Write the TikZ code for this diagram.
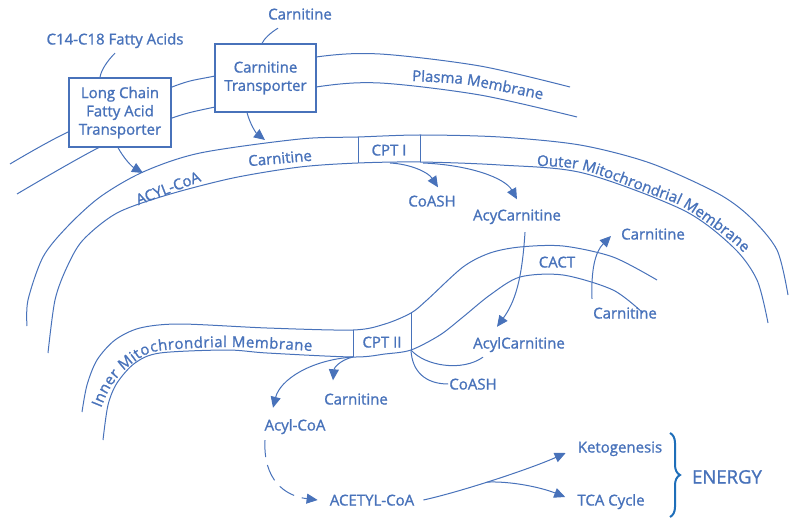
\documentclass[tikz,border=0pt]{standalone}
\usepackage{fontspec}
\setmainfont{Open Sans}
\newfontfamily\lblfam{Open Sans}[FakeBold=1.2]
\usetikzlibrary{arrows.meta,decorations.text,decorations.pathreplacing}
\definecolor{dblue}{RGB}{72,114,186}
\definecolor{bblue}{RGB}{30,110,185}
\newcommand{\lblsize}{\lblfam\fontsize{15}{18.3}\selectfont}

\begin{document}
\begin{tikzpicture}[x=1pt,y=-1pt,
  mem/.style={draw=dblue,line width=1pt},
  lnk/.style={color=dblue,line width=1pt},
  arr/.style={lnk,-{Triangle[length=11pt,width=10pt]}},
  lbl/.style={text=dblue,font=\lblsize,inner sep=1pt,text height=11pt,text depth=0pt},
  tbox/.style={draw=dblue,line width=1.2pt,fill=white,text=dblue,font=\lblsize,align=center,inner sep=0pt},
  curved/.style={decorate,decoration={text along path,text align=left,text color=dblue,text={|\lblsize|#1}}},
  curvedfit/.style={decorate,decoration={text along path,text align={fit to path},text color=dblue,text={|\lblsize|#1}}}]
\useasboundingbox (0,0) rectangle (800,521);
% membranes
\draw[mem] plot[smooth] coordinates {(10,164) (68,132) (172,87) (215,76) (316,57) (380,54) (480,66) (570,87)};
\draw[mem] plot[smooth] coordinates {(17,194) (100,147) (172,118) (215,107) (316,87) (380,83) (480,95) (577,117)};
\draw[mem] plot[smooth] coordinates {(27,326) (28,300) (43,257) (67,227) (100,197) (143,172) (200,153) (300,139) (358,137) (420,135) (500,137) (580,145) (650,163) (717,193) (750,217) (777,250) (788,295)};
\draw[mem] plot[smooth] coordinates {(48,353) (55,300) (67,267) (83,240) (117,213) (167,195) (233,178) (300,167) (358,163) (420,162) (500,165) (583,173) (683,210) (733,247) (757,280) (768,323)};
\draw[mem] plot[smooth] coordinates {(82,412) (87,385) (97,360) (115,340) (140,328) (180,324) (267,328) (353,330) (385,324) (411,313) (427,300) (463,267) (490,253) (520,247) (563,246) (613,257) (657,280)};
\draw[mem] plot[smooth] coordinates {(103,440) (108,405) (117,383) (135,363) (160,353) (227,350) (267,353) (353,357) (385,354) (411,350) (440,335) (463,317) (490,295) (520,277) (563,275) (613,290) (643,313)};
\draw[mem] (358,137) -- (358,163) (420,135) -- (420,162);
\draw[mem] (353,330) -- (353,357) (411,313) -- (411,350);
\coordinate (p1) at (390,163);
\coordinate (p2) at (423,163);
\coordinate (q1) at (353,357);
\coordinate (q2) at (411,350);
\coordinate (t1) at (143,173);
\coordinate (t2) at (265,140);
% membrane names
\path[curved=Plasma Membrane] plot[smooth] coordinates {(412,81) (462,84) (500,91) (548,101) (600,116)};
\path[curved=Outer Mitochrondrial Membrane] plot[smooth] coordinates {(537,166) (583,170) (650,194) (685,208) (737,246) (760,278) (775,320)};
\path[curvedfit=Inner Mitochrondrial Membrane] plot[smooth] coordinates {(101,408) (108,392) (118,377) (133,363) (158,351) (232,347) (312,351)};
% boxes and labels
\node[tbox,minimum width=102pt,minimum height=69pt](lcfa) at (120,112.5){Long Chain\\Fatty Acid\\Transporter};
\node[tbox,minimum width=101pt,minimum height=68pt](ct) at (265.5,78){Carnitine\\Transporter};
\node[lbl](fa) at (115,39){C14-C18 Fatty Acids};
\node[lbl](ctop) at (300,14){Carnitine};
\node[lbl,rotate=21](acylom) at (168,188){ACYL-CoA};
\node[lbl,rotate=5](carnom) at (280,158){Carnitine};
\node[lbl](cpt1) at (389,150){CPT I};
\node[lbl](coa1) at (432,201){CoASH};
\node[lbl](acy) at (517,215){AcyCarnitine};
\node[lbl](cact) at (557,262){CACT};
\node[lbl](carnr) at (653,234){Carnitine};
\node[lbl](carnl) at (625,313){Carnitine};
\node[lbl](acyl) at (519,343){AcylCarnitine};
\node[lbl](cpt2) at (382,342){CPT II};
\node[lbl](coa2) at (473,384){CoASH};
\node[lbl](carnb) at (356,399){Carnitine};
\node[lbl](acoa) at (295,425){Acyl-CoA};
\node[lbl](acetyl) at (372,500){ACETYL-CoA};
\node[lbl](keto) at (620,447){Ketogenesis};
\node[lbl](tca) at (611,500){TCA Cycle};
\node[lbl,font=\lblfam\fontsize{18.5}{22}\selectfont,text height=13pt](energy) at (727,477){ENERGY};
\draw[decorate,decoration={brace,amplitude=10pt},draw=bblue,line width=2pt] (670,433) -- (670,517);
% connectors
\draw[lnk] ([yshift=-7.5pt]fa.south) .. controls (108,60) and (101,70) .. ([xshift=-20pt]lcfa.north);
\draw[lnk] ([xshift=-22pt,yshift=-7.5pt]ctop.south) .. controls (270,33) and (264,39) .. ([xshift=-3.5pt]ct.north);
\draw[arr] ([xshift=-2pt]lcfa.south) .. controls (123,157) and (131,166) .. (t1);
\draw[arr] ([xshift=-18.5pt]ct.south) .. controls (250,124) and (256,133) .. (t2);
\draw[arr] (p1) .. controls (410,164) and (428,172) .. ([xshift=6pt,yshift=7pt]coa1.north);
\draw[arr] (p2) .. controls (470,165) and (505,178) .. ([yshift=9pt]acy.north);
\draw[arr] ([xshift=8pt,yshift=-10.5pt]acy.south) .. controls (522,280) and (515,302) .. ([xshift=-22pt,yshift=9.5pt]acyl.north);
\draw[arr] ([xshift=-33pt,yshift=7.5pt]carnl.north) .. controls (591,270) and (595,252) .. ([xshift=-9pt,yshift=-2pt]carnr.west);
\draw[arr] (q1) .. controls (340,360) and (334,368) .. ([xshift=-23pt,yshift=12pt]carnb.north);
\draw[arr] (q1) .. controls (310,360) and (280,380) .. ([xshift=-22pt,yshift=10.5pt]acoa.north);
\draw[lnk] (q2) .. controls (425,366) and (462,372) .. ([xshift=11pt,yshift=-7.5pt]acyl.south west);
\draw[lnk] (q2) .. controls (412,372) and (426,384) .. (coa2.west);
\draw[arr,dash pattern=on 17pt off 8pt] ([xshift=-30pt,yshift=-8.5pt]acoa.south) .. controls (263,480) and (285,496) .. ([xshift=-11pt]acetyl.west);
\draw[arr] ([xshift=8pt]acetyl.east) .. controls (460,492) and (530,469) .. ([xshift=-11pt,yshift=-6pt]keto.west) coordinate[pos=0.45](f);
\draw[arr] (f) .. controls (510,481) and (540,487) .. ([xshift=-11pt,yshift=3pt]tca.west);
\end{tikzpicture}
\end{document}
